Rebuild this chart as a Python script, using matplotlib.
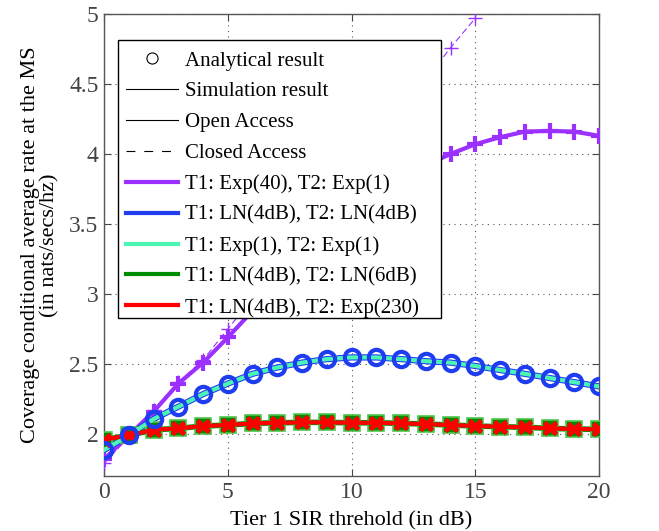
import matplotlib
matplotlib.use("Agg")
import matplotlib.pyplot as plt
from matplotlib.lines import Line2D
from matplotlib.patches import Rectangle
import numpy as np

plt.rcParams['font.family'] = ['Liberation Serif', 'DejaVu Serif']

x = list(range(0, 21))

# T1: Exp(40), T2: Exp(1) - open access
purple_open = [1.82, 1.99, 2.16, 2.36, 2.51, 2.69, 2.88, 3.07, 3.25, 3.42, 3.57,
               3.70, 3.82, 3.92, 4.00, 4.07, 4.12, 4.16, 4.165, 4.16, 4.13]
# T1: Exp(40), T2: Exp(1) - closed access
x_closed = list(range(0, 16))
purple_closed = [1.79, 1.98, 2.17, 2.37, 2.53, 2.75, 2.97, 3.19, 3.41, 3.63, 3.85,
                 4.08, 4.31, 4.53, 4.76, 4.97]
# T1: LN(4dB), T2: LN(4dB)
blue = [1.886, 1.99, 2.107, 2.195, 2.285, 2.36, 2.43, 2.475, 2.51, 2.535, 2.547,
        2.547, 2.535, 2.52, 2.51, 2.486, 2.457, 2.43, 2.40, 2.37, 2.34]
# T1: Exp(1), T2: Exp(1)
cyan = blue
# T1: LN(4dB), T2: LN(6dB)
green = [1.96, 1.99, 2.03, 2.04, 2.057, 2.064, 2.076, 2.08, 2.083, 2.083, 2.08,
         2.08, 2.076, 2.071, 2.064, 2.057, 2.052, 2.048, 2.04, 2.036, 2.033]
# T1: LN(4dB), T2: Exp(230)
red = green

legend_labels = ["Analytical result", "Simulation result", "Open Access", "Closed Access",
                 "T1: Exp(40), T2: Exp(1)", "T1: LN(4dB), T2: LN(4dB)",
                 "T1: Exp(1), T2: Exp(1)", "T1: LN(4dB), T2: LN(6dB)",
                 "T1: LN(4dB), T2: Exp(230)"]

c_purple = '#9B30FF'
c_blue = '#1E3CF0'
c_cyan = '#4CF5B4'
c_green = '#008C00'
c_red = '#FF0000'

fig = plt.figure(figsize=(6.59, 5.31), dpi=100)
ax = fig.add_axes([0.158, 0.1036, 0.751, 0.87])

# purple
ax.plot(x_closed, purple_closed, '--', color=c_purple, lw=0.8, marker='+', ms=10, mew=1.0,
        dashes=(6, 3), zorder=3)
ax.plot(x, purple_open, '-', color=c_purple, lw=3, marker='+', ms=11, mew=3, zorder=4)

# blue / cyan
ax.plot(x, blue, '-', color=c_blue, lw=4.5, zorder=5)
ax.plot(x, cyan, '-', color=c_cyan, lw=3, zorder=6)
ax.plot(x, blue, 'o', color=c_blue, ms=11, mew=3, mfc='none', zorder=7)

# green / red
ax.plot(x, green, '-', color=c_green, lw=4, marker='s', ms=11, mfc=c_green, mec='#4CC84C',
        mew=1.2, zorder=5)
ax.plot(x, red, '-', color=c_red, lw=3, marker='x', ms=8, mew=3.5, zorder=6)

ax.set_xlim(0, 20)
ax.set_ylim(1.7, 5)
ax.set_xticks([0, 5, 10, 15, 20])
ax.set_yticks([2, 2.5, 3, 3.5, 4, 4.5, 5])
ax.set_yticklabels(['2', '2.5', '3', '3.5', '4', '4.5', '5'])
ax.grid(True, linestyle=(0, (1, 4)), color='#555555', lw=0.8)
ax.tick_params(direction='in', top=True, right=True, labelsize=17, colors='#444444',
               length=5, width=0.8, pad=4)
for s in ax.spines.values():
    s.set_color('#555555')
    s.set_linewidth(1.0)

ax.set_xlabel('Tier 1 SIR threhold (in dB)', fontsize=16, labelpad=6)
ax.set_ylabel('Coverage conditional average rate at the MS\n(in nats/secs/hz)', fontsize=16,
              labelpad=7, linespacing=1.05)

handles = [
    Line2D([], [], color='black', marker='o', ls='none', mfc='none', ms=8, mew=0.8),
    Line2D([], [], color='black', lw=0.8),
    Line2D([], [], color='black', lw=0.8),
    Line2D([], [], color='black', lw=0.8, ls='--', dashes=(8, 8)),
    Line2D([], [], color=c_purple, lw=3),
    Line2D([], [], color=c_blue, lw=3),
    Line2D([], [], color=c_cyan, lw=3),
    Line2D([], [], color=c_green, lw=3),
    Line2D([], [], color=c_red, lw=3),
]
# legend frame (MATLAB style, wider right padding)
ax.add_patch(Rectangle((0.0283, 0.342), 0.6525, 0.6017, transform=ax.transAxes,
                       facecolor='white', edgecolor='black', lw=1.0, zorder=9))
leg = ax.legend(handles, legend_labels, loc='upper left', bbox_to_anchor=(0.028, 0.938),
                fontsize=15, frameon=False, handlelength=2.5, handletextpad=0.3,
                labelspacing=0.54, borderpad=0.4, borderaxespad=0)
leg.set_zorder(10)

fig.savefig('out.png', dpi=100)
